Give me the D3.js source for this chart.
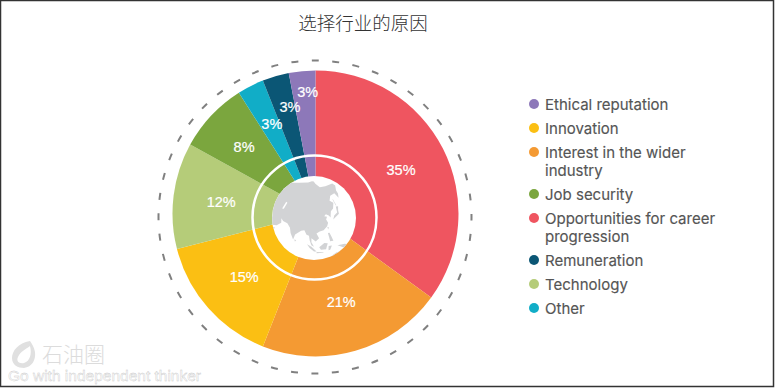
<!DOCTYPE html>
<html><head><meta charset="utf-8">
<script src="https://cdn.jsdelivr.net/npm/d3@7"></script>
<style>html,body{margin:0;padding:0;background:#fff}svg{display:block}</style>
</head><body><svg id="c" width="775" height="388"></svg>
<script>
const title = "选择行业的原因";
const sliceNames = ["Opportunities for career progression","Interest in the wider industry","Innovation","Technology","Job security","Other","Remuneration","Ethical reputation"];
const sliceValues = [35,21,15,12,8,3,3,3];
const sliceColors = ["#EF5560","#F49A33","#FBBF13","#B5CC79","#7BA63E","#11ADC7","#0B5675","#8D78B9"];
const legendOrder = ["Ethical reputation","Innovation","Interest in the wider industry","Job security","Opportunities for career progression","Remuneration","Technology","Other"];
const labelRadii = [96,92,95,95,98,100,110,122];
const labelShiftDeg = [0,0,0,0,0,1.1,2.8,1.7];

const landShapes = [
 [[10,60],[30,72],[60,80],[80,84],[100,84],[112,80],[128,74],[150,72],[170,70],[180,68],[178,64],[165,60],[162,56],[156,52],[155,59],[142,59],[135,54],[140,50],[135,44],[130,42],[128,38],[127,35],[125,38],[121,40],[118,38],[122,37],[120,34],[122,30],[120,26],[115,22],[110,21],[106,19],[109,13],[105,9],[100,13],[100,8],[103,2],[100,4],[98,10],[97,16],[94,17],[91,22],[87,21],[80,15],[78,8],[74,15],[72,21],[67,25],[60,25],[56,27],[58,22],[52,16],[44,12],[40,20],[35,28],[32,31],[28,37],[10,40]],
 [[130,32],[135,34],[141,36],[142,40],[145,44],[141,45],[139,38],[133,36]],
 [[143,54],[143,46],[142,46],[142,54]],
 [[95,5],[100,2],[106,-5],[103,-5],[98,0]],
 [[109,1],[115,6],[119,5],[117,-3],[111,-3]],
 [[120,18],[122,18],[124,13],[126,7],[122,7],[121,13]],
 [[106,-6],[114,-7],[114,-8],[106,-8]],
 [[120,1],[124,1],[122,-5],[120,-5]],
 [[80,9],[82,7],[80,6]],
 [[120,25],[122,25],[121,22]],
 [[131,-1],[141,-3],[150,-9],[141,-9],[135,-4]],
 [[114,-22],[122,-18],[130,-12],[136,-12],[140,-17],[142,-11],[146,-19],[153,-27],[150,-37],[140,-38],[131,-32],[116,-34]],
 [[22,0],[50,12],[42,-2],[40,-15],[35,-25],[28,-33],[18,-33],[12,-15],[10,4]]
];
const lakeShapes = [ [[50,46],[53,46],[53,38],[50,37]] ];

const cx = 315.5, cy = 213.5, R = 143;
const svg = d3.select("#c");

// frame
svg.append("rect").attr("x",0.5).attr("y",0.5).attr("width",773).attr("height",386)
  .attr("fill","#fff").attr("stroke","#333").attr("stroke-width",1.5);

// title
svg.append("text").attr("x",363).attr("y",30).attr("text-anchor","middle")
  .attr("font-family","'Noto Sans CJK SC'").attr("font-weight",300)
  .attr("font-size",18.5).attr("fill","#333").text(title);

// pie
const pie = d3.pie().sort(null).value(d=>d.value);
const arc = d3.arc().innerRadius(0).outerRadius(R);
const data = pie(sliceNames.map((n,i)=>({name:n,value:sliceValues[i],color:sliceColors[i],lr:labelRadii[i],ls:labelShiftDeg[i]})));
const g = svg.append("g").attr("transform",`translate(${cx},${cy})`);
g.selectAll("path").data(data).join("path").attr("d",arc).attr("fill",d=>d.data.color);

// dashed ring
const ringR = 156.5, ringCy = 217, dashN = 48, dashLen = 7;
const gap = 2*Math.PI*ringR/dashN - dashLen;
svg.append("circle").attr("cx",315).attr("cy",ringCy).attr("r",ringR)
  .attr("fill","none").attr("stroke","#808080").attr("stroke-width",2)
  .attr("stroke-dasharray",`${dashLen} ${gap}`).attr("stroke-dashoffset",dashLen/2);

// globe
const gx = 314, gy = 218, gr = 42;
const proj = d3.geoOrthographic().rotate([-103,-37,0]).scale(50).translate([gx,gy]).clipAngle(90);
const path = d3.geoPath(proj);
function poly(pts){
  let ring = pts.concat([pts[0]]);
  let f = {type:"Polygon",coordinates:[ring]};
  if (d3.geoArea(f) > 2*Math.PI) f = {type:"Polygon",coordinates:[ring.slice().reverse()]};
  return f;
}
svg.append("clipPath").attr("id","gc").append("circle").attr("cx",gx).attr("cy",gy).attr("r",gr);
svg.append("circle").attr("cx",gx).attr("cy",gy).attr("r",gr).attr("fill","#fff");
const land = svg.append("g").attr("clip-path","url(#gc)");
land.selectAll("path.land").data(landShapes).join("path").attr("class","land")
  .attr("d",d=>path(poly(d))).attr("fill","#D2D3D5");
land.selectAll("path.lake").data(lakeShapes).join("path").attr("class","lake")
  .attr("d",d=>path(poly(d))).attr("fill","#fff");

// white ring
svg.append("circle").attr("cx",314.5).attr("cy",217.5).attr("r",62)
  .attr("fill","none").attr("stroke","#fff").attr("stroke-width",2.5);

// slice labels
g.selectAll("text").data(data).join("text")
  .attr("transform",d=>{const a=(d.startAngle+d.endAngle)/2+d.data.ls*Math.PI/180;return `translate(${d.data.lr*Math.sin(a)},${-d.data.lr*Math.cos(a)})`;})
  .attr("text-anchor","middle").attr("dy","0.36em")
  .attr("font-family","'Liberation Sans'").attr("font-size",14.5)
  .attr("fill","#fff").attr("stroke","#fff").attr("stroke-width",0.2)
  .text(d=>d.data.value+"%");

// legend
const colorOf = d3.scaleOrdinal().domain(sliceNames).range(sliceColors);
let ly = 104;
legendOrder.forEach(name=>{
  svg.append("circle").attr("cx",534).attr("cy",ly).attr("r",5).attr("fill",colorOf(name));
  const t = svg.append("text").attr("x",545).attr("y",ly+5.5)
    .attr("font-family","Inter").attr("font-size",15).attr("fill","#555")
    .attr("stroke","#555").attr("stroke-width",0.15);
  const words = name.split(" ");
  let line = [], ts = t.append("tspan").attr("x",545), lines = 1;
  words.forEach(w=>{
    line.push(w); ts.text(line.join(" "));
    if (ts.node().getComputedTextLength() > 178 && line.length>1){
      line.pop(); ts.text(line.join(" "));
      line=[w]; ts = t.append("tspan").attr("x",545).attr("dy",18).text(w); lines++;
    }
  });
  ly += 24 + (lines-1)*18;
});

// watermark
const wm = svg.append("g");
wm.append("path").attr("d","M30 341 C18 343 12 351 12 358 C12 365 18 368 24 368 C32 367 36 360 35 352 C34 347 32 344 30 341 Z M30 346 C32 354 30 361 24 363 C19 364 16 361 18 357 C20 352 26 349 30 346 Z")
  .attr("fill","#e0e0e0").attr("fill-rule","evenodd");
wm.append("text").attr("x",42).attr("y",362).attr("font-family","'Noto Sans CJK SC'").attr("font-weight",300)
  .attr("font-size",21).attr("fill","#dcdcdc").text("石油圈");
wm.append("text").attr("x",8).attr("y",381).attr("font-family","'Liberation Sans'").attr("font-size",15.5)
  .attr("fill","#fff").attr("stroke","#c8c8c8").attr("stroke-width",0.4).text("Go with independent thinker");
</script></body></html>
